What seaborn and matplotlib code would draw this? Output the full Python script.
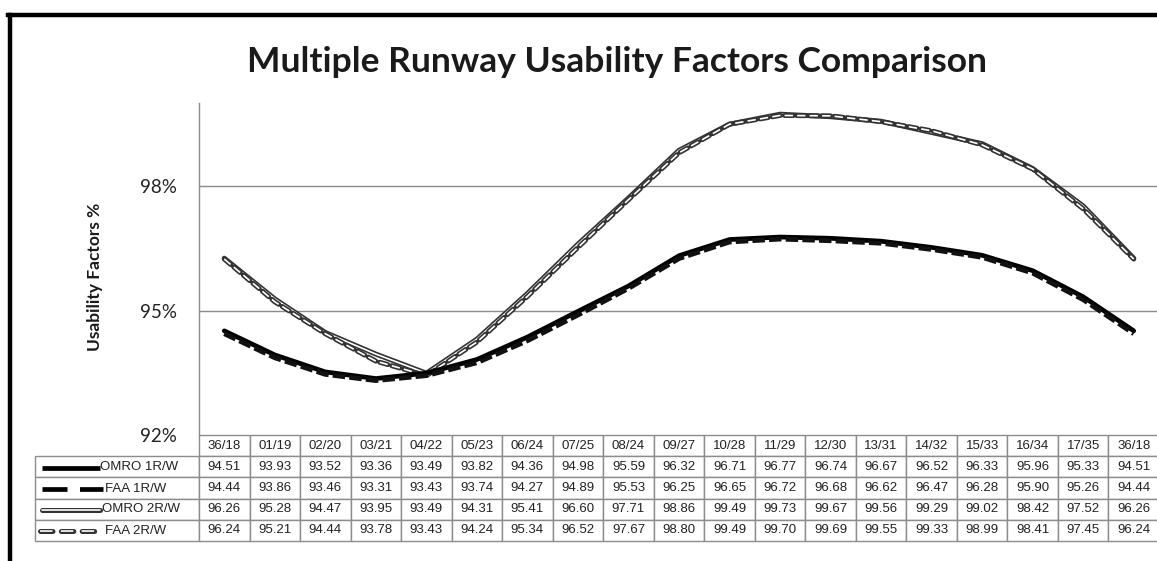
import matplotlib
matplotlib.use("Agg")
import matplotlib.pyplot as plt
import seaborn as sns
import numpy as np
from matplotlib.table import Table
from matplotlib.lines import Line2D

# ---------------- data ----------------
runways = ["36/18", "01/19", "02/20", "03/21", "04/22", "05/23", "06/24", "07/25",
           "08/24", "09/27", "10/28", "11/29", "12/30", "13/31", "14/32", "15/33",
           "16/34", "17/35", "36/18"]
omro_1rw = [94.51, 93.93, 93.52, 93.36, 93.49, 93.82, 94.36, 94.98, 95.59, 96.32,
            96.71, 96.77, 96.74, 96.67, 96.52, 96.33, 95.96, 95.33, 94.51]
faa_1rw = [94.44, 93.86, 93.46, 93.31, 93.43, 93.74, 94.27, 94.89, 95.53, 96.25,
           96.65, 96.72, 96.68, 96.62, 96.47, 96.28, 95.90, 95.26, 94.44]
omro_2rw = [96.26, 95.28, 94.47, 93.95, 93.49, 94.31, 95.41, 96.60, 97.71, 98.86,
            99.49, 99.73, 99.67, 99.56, 99.29, 99.02, 98.42, 97.52, 96.26]
faa_2rw = [96.24, 95.21, 94.44, 93.78, 93.43, 94.24, 95.34, 96.52, 97.67, 98.80,
           99.49, 99.70, 99.69, 99.55, 99.33, 98.99, 98.41, 97.45, 96.24]
series_names = ["OMRO 1R/W", "FAA 1R/W", "OMRO 2R/W", "FAA 2R/W"]
y_ticks = [92, 95, 98]
y_tick_labels = ["92%", "95%", "98%"]

# ---------------- style ----------------
sns.set_theme(style="white")
plt.rcParams["font.family"] = ["Liberation Sans", "DejaVu Sans"]
plt.rcParams["lines.scale_dashes"] = False

W, H, DPI = 1157, 561, 100
fig = plt.figure(figsize=(W / DPI, H / DPI), dpi=DPI)
fig.patch.set_facecolor("white")

# axes in pixel geometry
ax_l, ax_r, ax_t, ax_b = 199, 1159, 103, 435
ax = fig.add_axes([ax_l / W, (H - ax_b) / H, (ax_r - ax_l) / W, (ax_b - ax_t) / H])
ax.set_facecolor("white")

xpos = np.arange(len(runways))
GRAY_DARK = "#333333"

# OMRO 2R/W: double line (dark outline, white core)
sns.lineplot(x=xpos, y=omro_2rw, ax=ax, color=GRAY_DARK, linewidth=3.6, zorder=3)
sns.lineplot(x=xpos, y=omro_2rw, ax=ax, color="white", linewidth=1.2, zorder=3.1)
# FAA 2R/W: double dashed line
sns.lineplot(x=xpos, y=faa_2rw, ax=ax, color=GRAY_DARK, linewidth=3.6, zorder=3.2)
ax.lines[-1].set_linestyle((0, (6, 3)))
ax.lines[-1].set_dash_capstyle("round")
sns.lineplot(x=xpos, y=faa_2rw, ax=ax, color="white", linewidth=1.2, zorder=3.3)
ax.lines[-1].set_linestyle((0, (6, 3)))
# OMRO 1R/W: solid thick black
sns.lineplot(x=xpos, y=omro_1rw, ax=ax, color="black", linewidth=3.4, zorder=4)
# FAA 1R/W: dashed thick black
sns.lineplot(x=xpos, y=faa_1rw, ax=ax, color="#111111", linewidth=3.4, zorder=4.1)
ax.lines[-1].set_linestyle((0, (9, 3)))

ax.set_xlim(-0.5, len(runways) - 0.5)
ax.set_ylim(92, 100)
ax.set_xticks([])
ax.set_yticks(y_ticks)
ax.set_yticklabels(y_tick_labels, fontsize=13.5, color="#222222", family=["Lato", "DejaVu Sans"])
ax.tick_params(axis="y", length=0, pad=16)
ax.set_xlabel("")
ax.set_ylabel("")
for yv in y_ticks[1:]:
    ax.axhline(yv, color="#8a8a8a", linewidth=1.0, zorder=1)
for side in ["top", "right", "bottom"]:
    ax.spines[side].set_visible(False)
ax.spines["left"].set_color("#8a8a8a")
ax.spines["left"].set_linewidth(1.0)

# ---------------- data table ----------------
tab_l, tab_t, tab_b = 35, 435, 541
axw, axh = ax_r - ax_l, ax_b - ax_t
# bbox covers only the value grid (row labels sit to its left)
bbox = [0.0, (ax_b - tab_b) / axh, 1.0, (tab_b - tab_t) / axh]
tbl = Table(ax, bbox=bbox)
label_w = (ax_l - tab_l) / axw
col_w = 1.0 / len(runways)
row_h = ((tab_b - tab_t) / axh) / 5
EDGE = "#8c8c8c"
for j, lab in enumerate(runways):
    c = tbl.add_cell(0, j, width=col_w, height=row_h, text=lab, loc="center")
    c.set_edgecolor(EDGE)
all_series = [omro_1rw, faa_1rw, omro_2rw, faa_2rw]
for i, vals in enumerate(all_series, start=1):
    c = tbl.add_cell(i, -1, width=label_w, height=row_h, text="", loc="left")
    c.set_edgecolor(EDGE)
    for j, v in enumerate(vals):
        c = tbl.add_cell(i, j, width=col_w, height=row_h, text=f"{v:.2f}", loc="center")
        c.set_edgecolor(EDGE)
tbl.auto_set_font_size(False)
tbl.set_fontsize(9.5)
for cell in tbl.get_celld().values():
    cell.get_text().set_color("#222222")
    cell.set_linewidth(1.0)
ax.add_table(tbl)

# legend keys + names inside the row-label cells
def ax_x(px):
    return (px - ax_l) / axw

def ax_y(py):
    return (ax_b - py) / axh

row_centers = [467.5, 488.5, 509.5, 530.5]
text_x = [100, 105, 102, 105]
for name, yc, tx in zip(series_names, row_centers, text_x):
    ax.text(ax_x(tx), ax_y(yc), name, transform=ax.transAxes, ha="left", va="center",
            fontsize=9.5, color="#222222", clip_on=False)

k0, k1 = ax_x(42), ax_x(100)
# OMRO 1R/W key
ax.plot([k0, k1], [ax_y(row_centers[0])] * 2, transform=ax.transAxes, color="black",
        linewidth=3.4, clip_on=False, solid_capstyle="butt")
# FAA 1R/W key
l, = ax.plot([k0, ax_x(103)], [ax_y(row_centers[1])] * 2, transform=ax.transAxes, color="black",
             linewidth=3.4, clip_on=False)
l.set_linestyle((0, (18, 9)))
# OMRO 2R/W key
ax.plot([k0, k1], [ax_y(row_centers[2])] * 2, transform=ax.transAxes, color=GRAY_DARK,
        linewidth=3.6, clip_on=False, solid_capstyle="round")
ax.plot([k0, k1], [ax_y(row_centers[2])] * 2, transform=ax.transAxes, color="white",
        linewidth=1.2, clip_on=False, solid_capstyle="round")
# FAA 2R/W key
l, = ax.plot([ax_x(40), ax_x(101)], [ax_y(row_centers[3])] * 2, transform=ax.transAxes,
             color=GRAY_DARK, linewidth=3.6, clip_on=False)
l.set_linestyle((0, (9, 6)))
l.set_dash_capstyle("round")
l, = ax.plot([ax_x(40), ax_x(101)], [ax_y(row_centers[3])] * 2, transform=ax.transAxes,
             color="white", linewidth=1.2, clip_on=False)
l.set_linestyle((0, (9, 6)))

# ---------------- titles ----------------
fig.text(617 / W, 1 - 62 / H, "Multiple Runway Usability Factors Comparison",
         ha="center", va="center", fontsize=25.5, fontweight="bold", color="#1a1a1a",
         family=["Lato", "DejaVu Sans"])
fig.text(95 / W, 1 - 277 / H, "Usability Factors %", rotation=90, ha="center", va="center",
         fontsize=12.5, fontweight="bold", color="#1a1a1a", family=["Lato", "DejaVu Sans"])

# outer frame (thick black, top and left)
fig.add_artist(Line2D([8 / W, 1.0], [1 - 15 / H, 1 - 15 / H], transform=fig.transFigure,
                      color="black", linewidth=3.2, solid_capstyle="projecting"))
fig.add_artist(Line2D([10 / W, 10 / W], [1 - 15 / H, 0.0], transform=fig.transFigure,
                      color="black", linewidth=3.2, solid_capstyle="projecting"))

fig.savefig("out.png", dpi=DPI, facecolor="white")
